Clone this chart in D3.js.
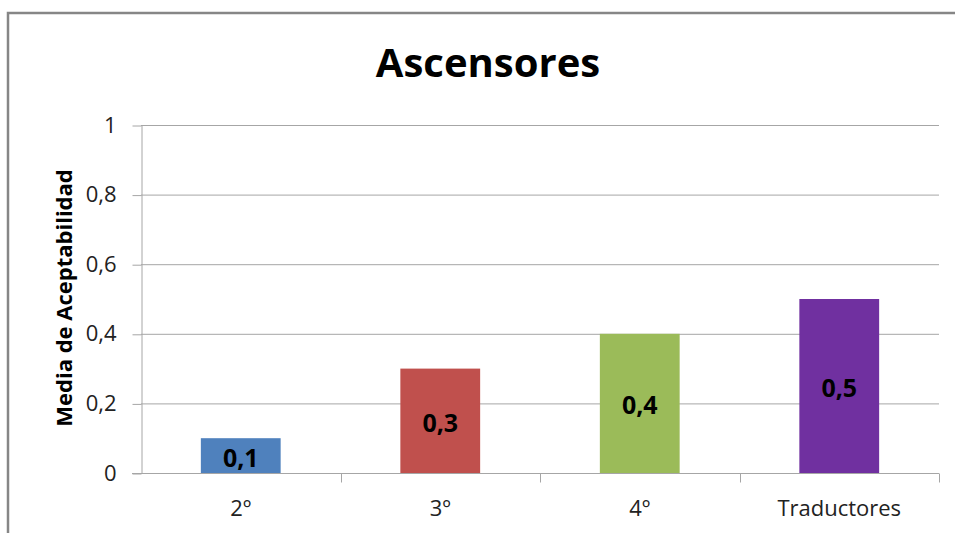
<!DOCTYPE html>
<html>
<head>
<meta charset="utf-8">
<script src="https://cdn.jsdelivr.net/npm/d3@7"></script>
<style>
  html, body { margin: 0; padding: 0; background: #fff; }
  svg { display: block; }
  text { font-family: "Open Sans", "Noto Sans", sans-serif; }
</style>
</head>
<body>
<svg id="chart" width="955" height="533"></svg>
<script>
// Mean acceptability per group
const categories = ["2º", "3º", "4º", "Traductores"];
const values = [0.1, 0.3, 0.4, 0.5];
const barColors = ["#4F81BD", "#C0504D", "#9BBB59", "#7030A0"];
const yTicks = [0, 0.2, 0.4, 0.6, 0.8, 1];
const title = "Ascensores";
const yTitle = "Media de Aceptabilidad";

const svg = d3.select("#chart");
const W = 955, H = 533;
const margin = { left: 141, right: 16, top: 125, bottom: 60 };
const x0 = margin.left, x1 = W - margin.right;
const yTop = margin.top, yBot = H - margin.bottom;

const fmt = d => d3.format(".1f")(d).replace(".", ",").replace(/^1,0$/, "1").replace(/^0,0$/, "0");

// Outer chart frame
svg.append("rect")
  .attr("x", 8).attr("y", 13)
  .attr("width", W + 10).attr("height", H + 10)
  .attr("fill", "none")
  .attr("stroke", "#868686")
  .attr("stroke-width", 2.5);

const x = d3.scaleBand().domain(categories).range([x0, x1]).paddingInner(0.6).paddingOuter(0.3);
const xb = d3.scaleBand().domain(categories).range([x0, x1]);
const y = d3.scaleLinear().domain([0, 1]).range([yBot, yTop]);

// Horizontal gridlines
svg.append("g")
  .selectAll("line")
  .data(yTicks.filter(d => d > 0))
  .join("line")
  .attr("x1", x0).attr("x2", x1)
  .attr("y1", d => y(d) + 0.5).attr("y2", d => y(d) + 0.5)
  .attr("stroke", "#A6A6A6").attr("stroke-width", 1);

// Y axis
const yAxis = svg.append("g")
  .attr("transform", `translate(${x0 + 0.5},0)`)
  .call(d3.axisLeft(y).tickValues(yTicks).tickFormat(fmt).tickSize(9).tickSizeOuter(0));
yAxis.select(".domain").attr("stroke", "#A6A6A6");
yAxis.selectAll(".tick line").attr("stroke", "#A6A6A6").attr("transform", "translate(0,0.5)");
yAxis.selectAll(".tick text")
  .attr("font-size", 22).attr("fill", "#222").attr("x", -25)
  .style("font-family", "'Open Sans', sans-serif");

// X axis with tick marks at band boundaries
const xAxisG = svg.append("g").attr("transform", `translate(0,${yBot + 0.5})`);
xAxisG.append("line")
  .attr("x1", x0 - 9).attr("x2", x1)
  .attr("stroke", "#A6A6A6");
const bounds = categories.map(c => xb(c) + xb.bandwidth());
xAxisG.selectAll("line.tk")
  .data(bounds)
  .join("line")
  .attr("class", "tk")
  .attr("x1", d => Math.round(d) + 0.5).attr("x2", d => Math.round(d) + 0.5)
  .attr("y1", 0).attr("y2", 9)
  .attr("stroke", "#A6A6A6");
xAxisG.selectAll("text")
  .data(categories)
  .join("text")
  .attr("x", d => xb(d) + xb.bandwidth() / 2)
  .attr("y", 42.5)
  .attr("text-anchor", "middle")
  .attr("font-size", 22)
  .attr("fill", "#222")
  .text(d => d);

// Bars
svg.append("g")
  .selectAll("rect")
  .data(values)
  .join("rect")
  .attr("x", (d, i) => x(categories[i]))
  .attr("y", d => y(d))
  .attr("width", x.bandwidth())
  .attr("height", d => y(0) - y(d))
  .attr("fill", (d, i) => barColors[i]);

// Value labels centred in each bar
svg.append("g")
  .selectAll("text")
  .data(values)
  .join("text")
  .attr("x", (d, i) => x(categories[i]) + x.bandwidth() / 2)
  .attr("y", d => (y(d) + y(0)) / 2)
  .attr("dy", "0.44em")
  .attr("text-anchor", "middle")
  .attr("font-size", 25)
  .attr("font-weight", "bold")
  .attr("fill", "#000")
  .text(d => fmt(d));

// Chart title
svg.append("text")
  .attr("x", 488).attr("y", 77)
  .attr("text-anchor", "middle")
  .attr("font-size", 40)
  .attr("font-weight", "bold")
  .attr("fill", "#000")
  .text(title);

// Y axis title
svg.append("text")
  .attr("transform", `translate(72,298) rotate(-90)`)
  .attr("text-anchor", "middle")
  .attr("font-size", 22)
  .attr("font-weight", "bold")
  .attr("fill", "#000")
  .text(yTitle);
</script>
</body>
</html>
